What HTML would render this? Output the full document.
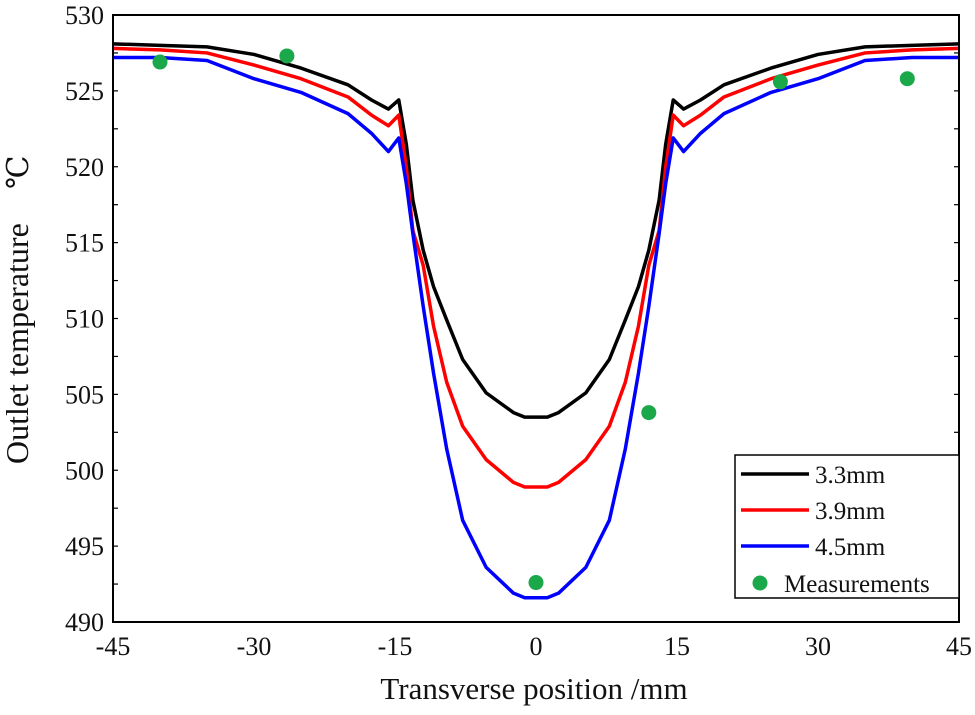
<!DOCTYPE html>
<html><head><meta charset="utf-8"><style>
html,body{margin:0;padding:0;background:#fff;}
svg text{font-family:"Liberation Serif","DejaVu Serif",serif;fill:#111;}
</style></head><body>
<svg id="chart" width="975" height="710" viewBox="0 0 975 710" xmlns="http://www.w3.org/2000/svg" font-family="Liberation Serif, serif">
<g id="series"></g>
<rect x="113" y="15" width="846" height="607" fill="none" stroke="#000" stroke-width="2"/>
<g id="ticks"></g>
<text x="534" y="699" font-size="31" text-anchor="middle" font-family="Liberation Serif, serif">Transverse position /mm</text>
<g>
<text transform="translate(28,464) rotate(-90)" font-size="32" text-anchor="start" font-family="Liberation Serif, serif">Outlet temperature</text>
<text transform="translate(28,189) rotate(-90)" font-size="30" text-anchor="start" font-family="Liberation Serif, serif">℃</text>
</g>
<g font-family="Liberation Serif, serif">
<rect x="735" y="455" width="224" height="143" fill="#fff" stroke="#000" stroke-width="1.5"/>
<line x1="741" y1="474" x2="809" y2="474" stroke="#000" stroke-width="3.5"/>
<text x="815" y="483" font-size="25">3.3mm</text>
<line x1="741" y1="510" x2="809" y2="510" stroke="#f00" stroke-width="3.5"/>
<text x="815" y="519" font-size="25">3.9mm</text>
<line x1="741" y1="546" x2="809" y2="546" stroke="#00f" stroke-width="3.5"/>
<text x="815" y="555" font-size="25">4.5mm</text>
<circle cx="760" cy="583" r="7.5" fill="#1aa84a"/>
<text x="784" y="592" font-size="25">Measurements</text>
</g>
</svg>
<script>
const xPos = [-45,-40,-35,-30,-25,-20,-17.5,-15.7,-14.6,-13.8,-13.1,-12,-10.9,-9.5,-7.8,-5.3,-2.4,-1.2,0,1.2,2.4,5.3,7.8,9.5,10.9,12,13.1,13.8,14.6,15.7,17.5,20,25,30,35,40,45];
const s33 = [528.1,528.0,527.9,527.4,526.5,525.4,524.4,523.8,524.4,521.5,517.8,514.5,512.1,509.9,507.3,505.1,503.8,503.5,503.5,503.5,503.8,505.1,507.3,509.9,512.1,514.5,517.8,521.5,524.4,523.8,524.4,525.4,526.5,527.4,527.9,528.0,528.1];
const s39 = [527.8,527.7,527.5,526.7,525.8,524.6,523.4,522.7,523.4,520,515.8,513.5,509.5,505.8,502.9,500.7,499.2,498.9,498.9,498.9,499.2,500.7,502.9,505.8,509.5,513.5,515.8,520,523.4,522.7,523.4,524.6,525.8,526.7,527.5,527.7,527.8];
const s45 = [527.2,527.2,527.0,525.8,524.9,523.5,522.2,521.0,521.9,518.9,515.6,510.8,506.4,501.4,496.7,493.6,491.9,491.6,491.6,491.6,491.9,493.6,496.7,501.4,506.4,510.8,515.6,518.9,521.9,521.0,522.2,523.5,524.9,525.8,527.0,527.2,527.2];
const measX = [-40,-26.5,0,12,26,39.5];
const measY = [526.9,527.3,492.6,503.8,525.6,525.8];
const xTicks = [-45,-30,-15,0,15,30,45];
const yTicks = [490,495,500,505,510,515,520,525,530];

const X0=113,X1=959,Y0=622,Y1=15;
const sx=v=>X0+(v+45)/90*(X1-X0);
const sy=v=>Y0-(v-490)/40*(Y0-Y1);
const NS="http://www.w3.org/2000/svg";
const g=document.getElementById('series');
const tk=document.getElementById('ticks');
function mk(t,a,p){const e=document.createElementNS(NS,t);for(const k in a)e.setAttribute(k,a[k]);p.appendChild(e);return e;}
[[s33,'#000','line-3.3mm'],[s39,'#f00','line-3.9mm'],[s45,'#00f','line-4.5mm']].forEach(([d,c,n])=>{
  const el=mk('polyline',{points:d.map((v,i)=>sx(xPos[i])+','+sy(v)).join(' '),fill:'none',stroke:c,'stroke-width':3.5,'stroke-linejoin':'round'},g);
  
  
});
measX.forEach((v,i)=>{
  const c=mk('circle',{cx:sx(v),cy:sy(measY[i]),r:7.5,fill:'#1aa84a'},g);
  
  
});
xTicks.forEach(v=>{
  const t=mk('text',{x:sx(v),y:655,'font-size':26,'text-anchor':'middle','font-family':'Liberation Serif, serif'},tk);t.textContent=v;
  
  
});
yTicks.forEach(v=>{
  const t=mk('text',{x:104,y:sy(v)+9,'font-size':26,'text-anchor':'end','font-family':'Liberation Serif, serif'},tk);t.textContent=v;
  
  
});
for(let v=490;v<=530;v+=2.5){
  mk('line',{x1:X0,x2:X0+5,y1:sy(v),y2:sy(v),stroke:'#000','stroke-width':1.2},tk);
  mk('line',{x1:X1,x2:X1-5,y1:sy(v),y2:sy(v),stroke:'#000','stroke-width':1.2},tk);
}
</script>
</body></html>
